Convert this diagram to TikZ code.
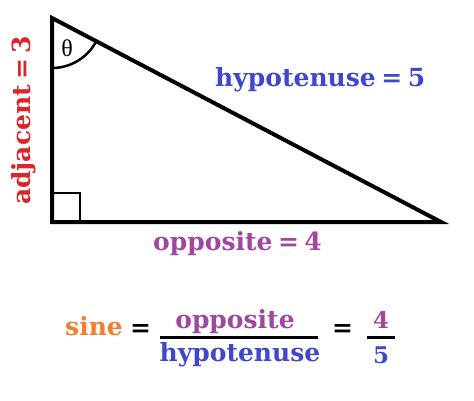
\documentclass[tikz,border=0pt]{standalone}
\usepackage{fontspec}
\setmainfont{DejaVu Serif}
\newfontfamily\thetafont{Liberation Serif}
\usetikzlibrary{calc}

\definecolor{adjred}{RGB}{220,36,42}
\definecolor{hypblue}{RGB}{63,72,204}
\definecolor{opppurple}{RGB}{160,72,160}
\definecolor{sineorange}{RGB}{245,125,45}

\newcommand{\eqsp}{\hspace{0.22em}}

\tikzset{
  word/.style={inner sep=0pt, font=\fontsize{25}{28}\selectfont\bfseries},
  digit/.style={inner sep=0pt, font=\fontsize{23}{26}\selectfont\bfseries},
  side/.style={line width=4pt},
  fracbar/.style={line width=3pt}
}

\begin{document}
\begin{tikzpicture}[x=1pt,y=1pt]
		\useasboundingbox (0,0) rectangle (474,400);
		
		% Triangle corners
		\coordinate (top) at (52,382);
		\coordinate (rt) at (52,178);
		\coordinate (far) at (441,178);
		
		% Triangle sides
		\draw[side] (top) -- (rt) -- (far) -- cycle;
		
		% Right angle mark and theta arc
		\draw[line width=2.5pt] ($(rt)+(0,29)$) -| ($(rt)+(28,0)$);
		\draw[line width=2.5pt] ($(top)+(0,-50)$) arc[start angle=270, end angle=332.4, radius=50];
		\node[font=\fontsize{24}{26}\selectfont\thetafont] (theta) at (67,352) {θ};
		
		% Side labels
		\node[word, rotate=90, anchor=base west, text=adjred] (adj) at (30,195) {adjacent\eqsp=\eqsp3};
		\node[word, anchor=base west, text=hypblue] (hyp) at (215,313) {hypotenuse\eqsp=\eqsp5};
		\node[word, anchor=base west, text=opppurple] (opp) at (153,150) {opposite\eqsp=\eqsp4};
		
		% Sine formula
		\node[word, anchor=base west, text=sineorange] (sine) at (65,65) {sine};
		\node[word] (eqa) at (140.5,70) {=};
		\node[word, anchor=base, text=opppurple] (num) at (235,72) {opposite};
		\node[word, anchor=base, text=hypblue] (den) at (240,39) {hypotenuse};
		\draw[fracbar] (160,63) -- (318,63);
		\node[word] (eqb) at (342.5,70) {=};
		\node[digit, anchor=base, text=opppurple] (four) at (381,72) {4};
		\node[digit, anchor=base, text=hypblue] (five) at (381,37) {5};
		\draw[fracbar] (367,63) -- (395,63);
	\end{tikzpicture}
\end{document}
